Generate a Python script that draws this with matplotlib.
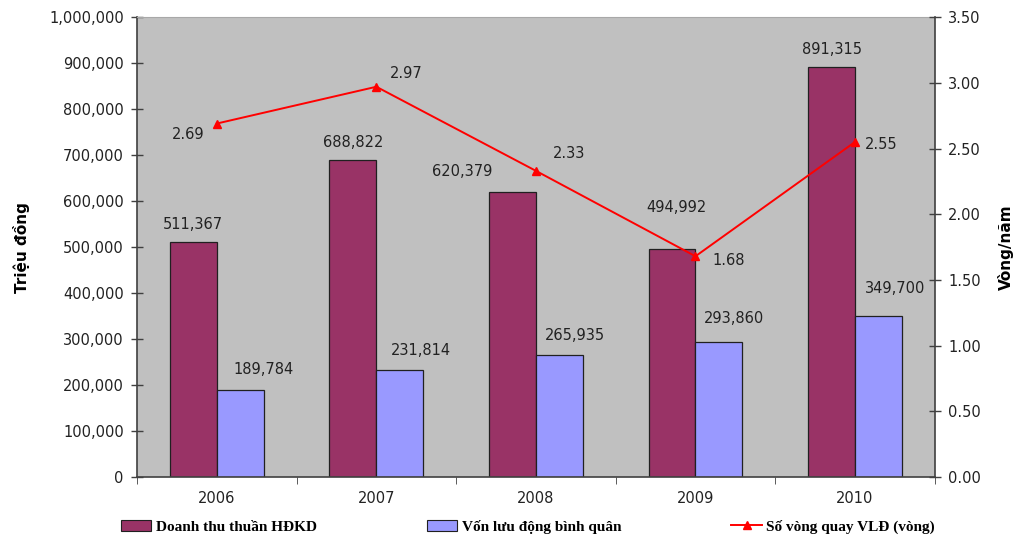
import numpy as np
import matplotlib.pyplot as plt
from matplotlib.patches import Patch
from matplotlib.lines import Line2D
from matplotlib.ticker import FuncFormatter

years = ["2006", "2007", "2008", "2009", "2010"]
doanh_thu = [511367, 688822, 620379, 494992, 891315]
von_ld = [189784, 231814, 265935, 293860, 349700]
so_vong = [2.69, 2.97, 2.33, 1.68, 2.55]

# label offsets in pixels (dx, dy)
off_dt = [(0, 17), (0, 18), (-50, 20), (4, 42), (0, 18)]
off_von = [(23, 20), (21, 20), (16, 19), (15, 23), (17, 28)]
off_vong = [(-29, -11), (30, 13), (33, 17), (33, -4), (26, -3)]

c_dt = "#993366"
c_von = "#9999FF"
c_bg = "#C0C0C0"
c_axis = "#404040"
c_txt = "#222222"

plt.rcParams["font.family"] = "DejaVu Sans"

fig = plt.figure(figsize=(10.15, 5.43), dpi=100)
ax = fig.add_axes([0.135, 0.1215, 0.786, 0.847])
ax.set_facecolor(c_bg)

x = np.arange(len(years))
w = 0.294
ax.bar(x - w, doanh_thu, w, align="edge", color=c_dt, edgecolor="#202020", linewidth=0.9, zorder=2)
ax.bar(x, von_ld, w, align="edge", color=c_von, edgecolor="#202020", linewidth=0.9, zorder=2)

for i, v in enumerate(doanh_thu):
    ax.annotate(f"{v:,}", xy=(i - w / 2, v), xytext=off_dt[i], textcoords="offset pixels",
                ha="center", va="center", fontsize=10.5, color=c_txt)
for i, v in enumerate(von_ld):
    ax.annotate(f"{v:,}", xy=(i + w / 2, v), xytext=off_von[i], textcoords="offset pixels",
                ha="center", va="center", fontsize=10.5, color=c_txt)

ax.set_xlim(-0.5, len(years) - 0.5)
ax.set_ylim(0, 1000000)
ax.set_yticks(np.arange(0, 1000001, 100000))
ax.yaxis.set_major_formatter(FuncFormatter(lambda v, p: f"{int(v):,}"))
ax.set_xticks(x)
ax.set_xticklabels(years)
ax.set_xticks(np.arange(-0.5, len(years), 1), minor=True)
ax.tick_params(axis="x", which="major", length=0, pad=10, labelsize=10.5, labelcolor=c_txt)
ax.tick_params(axis="x", which="minor", length=5, direction="out", color=c_axis)
ax.tick_params(axis="y", direction="inout", length=9, width=1, color=c_axis,
               labelsize=10.5, labelcolor=c_txt, pad=5)
ax.set_ylabel("Triệu đồng", fontsize=11, fontweight="bold", labelpad=14)

for s in ["left", "bottom"]:
    ax.spines[s].set_color(c_axis)
    ax.spines[s].set_linewidth(1.2)
ax.spines["top"].set_color("#A8A8A8")
ax.spines["right"].set_visible(False)

ax2 = ax.twinx()
ax2.plot(x, so_vong, color="#FF0000", linewidth=1.4, marker="^", markersize=6, zorder=3)
for i, v in enumerate(so_vong):
    ax2.annotate(f"{v:.2f}", xy=(i, v), xytext=off_vong[i], textcoords="offset pixels",
                 ha="center", va="center", fontsize=10.5, color=c_txt)
ax2.set_ylim(0, 3.5)
ax2.set_yticks(np.arange(0, 3.51, 0.5))
ax2.yaxis.set_major_formatter(FuncFormatter(lambda v, p: f"{v:.2f}"))
ax2.tick_params(axis="y", direction="inout", length=9, width=1, color=c_axis,
                labelsize=10.5, labelcolor=c_txt, pad=5)
ax2.set_ylabel("Vòng/năm", fontsize=11, fontweight="bold", labelpad=12)
for s in ["left", "top", "bottom"]:
    ax2.spines[s].set_visible(False)
ax2.spines["right"].set_color(c_axis)
ax2.spines["right"].set_linewidth(1.2)

handles = [
    Patch(facecolor=c_dt, edgecolor="#202020", linewidth=0.8),
    Patch(facecolor=c_von, edgecolor="#202020", linewidth=0.8),
    Line2D([0], [0], color="#FF0000", linewidth=1.4, marker="^", markersize=6),
]
labels = ["Doanh thu thuần HĐKD", "Vốn lưu động bình quân", "Số vòng quay VLĐ (vòng)"]
fig.legend(handles, labels, loc="center", bbox_to_anchor=(0.52, 0.03), ncol=3, frameon=False,
           prop={"family": "Liberation Serif", "weight": "bold", "size": 11},
           handlelength=2.0, handleheight=0.8, handletextpad=0.3, columnspacing=7.2)

fig.savefig("out.png", dpi=100)
